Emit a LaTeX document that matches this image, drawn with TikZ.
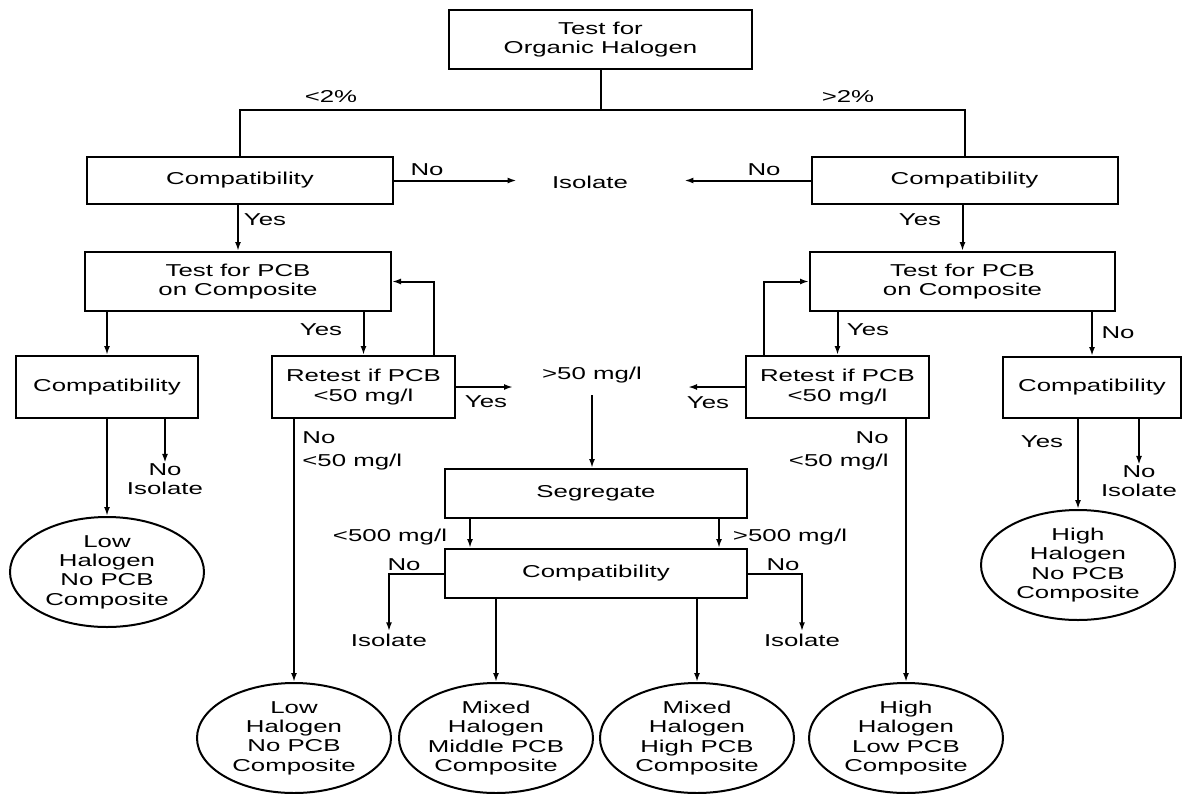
\documentclass[tikz,border=0pt]{standalone}
\usepackage{fontspec}
\setmainfont[FakeStretch=1.5]{Liberation Sans}
\usetikzlibrary{arrows.meta,shapes.geometric}
\tikzset{
  stepbox/.style={draw,line width=1pt,align=center,inner sep=0pt},
  endcircle/.style={draw,ellipse,line width=1pt,align=center,inner sep=0pt,
    minimum width=97pt,minimum height=55pt},
  flowarrow/.style={-{Latex[length=4.5pt,width=3pt]},line width=1pt},
  flowline/.style={line width=1pt},
  flowlabel/.style={inner sep=0pt,align=center}
}
\begin{document}
\begin{tikzpicture}[x=0.5pt,y=-0.5pt,every node/.style={font=\fontsize{8.6}{9.7}\selectfont}]
  \useasboundingbox (0,0) rectangle (1183,793);
  % top test and first split
  \node[stepbox,minimum width=151.5pt,minimum height=29.5pt] (halo) at (600.5,39.5) {Test for\\Organic Halogen};
  \coordinate (split) at (600.5,110);
  \node[stepbox,minimum width=153pt,minimum height=23.5pt] (compL) at (240,180.5) {Compatibility};
  \node[stepbox,minimum width=153pt,minimum height=23.5pt] (compR) at (964.5,180.5) {Compatibility};
  \draw[flowline] (halo.south) -- (split);
  \draw[flowline] (compL.north) |- (split) -| (compR.north);
  \node[flowlabel] (lowpct) at (331,97) {<2\%};
  \node[flowlabel] (highpct) at (848,97) {>2\%};
  \node[flowlabel] (isoTop) at (590,182) {Isolate};
  \draw[flowarrow,shorten >=17.5pt] (compL.east) -- (compL.east -| isoTop.west);
  \draw[flowarrow,shorten >=28pt] (compR.west) -- (compR.west -| isoTop.east);
  \node[flowlabel] (noTopL) at (427,170) {No};
  \node[flowlabel] (noTopR) at (764,170) {No};
  % PCB tests
  \node[stepbox,minimum width=153pt,minimum height=29.5pt] (pcbL) at (238,281.5) {Test for PCB\\on Composite};
  \node[stepbox,minimum width=152.5pt,minimum height=29.5pt] (pcbR) at (962.5,281.5) {Test for PCB\\on Composite};
  \draw[flowarrow] (compL.south -| pcbL) -- (pcbL.north);
  \draw[flowarrow] (compR.south -| pcbR) -- (pcbR.north);
  \node[flowlabel] (yesTopL) at (265,220) {Yes};
  \node[flowlabel] (yesTopR) at (920,220) {Yes};
  % second row
  \node[stepbox,minimum width=91pt,minimum height=31pt] (compL2) at (107,387) {Compatibility};
  \node[stepbox,minimum width=91.5pt,minimum height=31pt] (retL) at (363.5,387) {Retest if PCB\\<50 mg/l};
  \node[stepbox,minimum width=91.5pt,minimum height=31pt] (retR) at (837.5,387) {Retest if PCB\\<50 mg/l};
  \node[stepbox,minimum width=89pt,minimum height=30.5pt] (compR2) at (1092,387.5) {Compatibility};
  \draw[flowarrow] (pcbL.south -| compL2) -- (compL2.north);
  \draw[flowarrow] (pcbL.south -| retL) -- (retL.north);
  \draw[flowarrow] ([xshift=35pt]retL.north) |- (pcbL.east);
  \draw[flowarrow] (pcbR.south -| retR) -- (retR.north);
  \draw[flowarrow] ([xshift=-37pt]retR.north) |- (pcbR.west);
  \draw[flowarrow] (pcbR.south -| compR2) -- (compR2.north);
  \node[flowlabel] (yesRetL) at (321,330) {Yes};
  \node[flowlabel] (yesRetR) at (868,330) {Yes};
  \node[flowlabel] (noCompR) at (1118,333) {No};
  % over 50
  \node[flowlabel] (over50) at (592,375) {>50 mg/l};
  \coordinate (yesL) at (513,387);
  \coordinate (yesR) at (688,387);
  \draw[flowarrow] (retL.east) -- (yesL);
  \draw[flowarrow] (retR.west) -- (yesR);
  \node[flowlabel] (yesOverL) at (486,402) {Yes};
  \node[flowlabel] (yesOverR) at (708,403) {Yes};
  \node[flowlabel,align=left,anchor=west] (under50L) at (302,451) {No\\[2pt]<50 mg/l};
  \node[flowlabel,align=right,anchor=east] (under50R) at (889,451) {No\\[2pt]<50 mg/l};
  % segregate
  \node[stepbox,minimum width=151pt,minimum height=24.5pt] (seg) at (596,493.5) {Segregate};
  \node[stepbox,minimum width=151pt,minimum height=24.5pt] (comp3) at (596,573.5) {Compatibility};
  \draw[flowarrow] (over50.south) ++(0,12) -- (over50.south |- seg.north);
  \draw[flowarrow] ([xshift=-63pt]seg.south) -- ([xshift=-63pt]comp3.north);
  \draw[flowarrow] ([xshift=61.5pt]seg.south) -- ([xshift=61.5pt]comp3.north);
  \node[flowlabel] (below500) at (390,537) {<500 mg/l};
  \node[flowlabel] (above500) at (790,537) {>500 mg/l};
  \node[flowlabel] (isoL3) at (389,640) {Isolate};
  \node[flowlabel] (isoR3) at (802,640) {Isolate};
  \draw[flowarrow] (comp3.west) -| ([yshift=1pt]isoL3.north);
  \draw[flowarrow] (comp3.east) -| ([yshift=1pt]isoR3.north);
  \node[flowlabel] (noL3) at (404,565) {No};
  \node[flowlabel] (noR3) at (783,565) {No};
  % side composites
  \node[flowlabel] (isoL2) at (165,479) {No\\Isolate};
  \node[flowlabel] (isoR2) at (1139,481) {No\\Isolate};
  \node[flowlabel] (yesCompR) at (1042,442) {Yes};
  \node[endcircle] (lowL) at (107,572) {Low\\Halogen\\No PCB\\Composite};
  \node[endcircle] (highR) at (1078,565) {High\\Halogen\\No PCB\\Composite};
  \draw[flowarrow] (compL2.south -| lowL) -- (lowL.north);
  \draw[flowarrow] (compL2.south -| isoL2) -- (isoL2.north);
  \draw[flowarrow] (compR2.south -| highR) -- (highR.north);
  \draw[flowarrow] (compR2.south -| isoR2) -- (isoR2.north);
  % bottom composites
  \node[endcircle] (circA) at (294,738) {Low\\Halogen\\No PCB\\Composite};
  \node[endcircle] (circB) at (496,738) {Mixed\\Halogen\\Middle PCB\\Composite};
  \node[endcircle] (circC) at (697,738) {Mixed\\Halogen\\High PCB\\Composite};
  \node[endcircle] (circD) at (906,738) {High\\Halogen\\Low PCB\\Composite};
  \draw[flowarrow] (retL.south -| circA) -- (circA.north);
  \draw[flowarrow] (comp3.south -| circB) -- (circB.north);
  \draw[flowarrow] (comp3.south -| circC) -- (circC.north);
  \draw[flowarrow] (retR.south -| circD) -- (circD.north);
\end{tikzpicture}
\end{document}
